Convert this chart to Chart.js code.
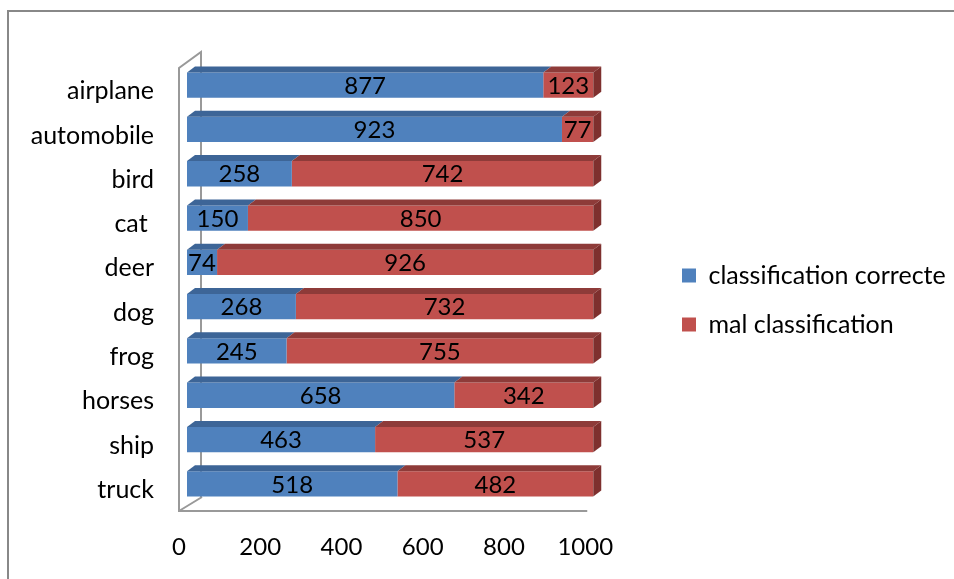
<!DOCTYPE html>
<html>
<head>
<meta charset="utf-8">
<script src="https://cdn.jsdelivr.net/npm/chart.js@4/dist/chart.umd.min.js"></script>
<style>
  html, body { margin: 0; padding: 0; background: #fff; }
  #wrap { width: 954px; height: 579px; position: relative; }
</style>
</head>
<body>
<div id="wrap"><canvas id="chart" width="954" height="579"></canvas></div>
<script>
const categories = ['airplane', 'automobile', 'bird', 'cat ', 'deer', 'dog', 'frog', 'horses', 'ship', 'truck'];
const correctValues = [877, 923, 258, 150, 74, 268, 245, 658, 463, 518];
const wrongValues = [123, 77, 742, 850, 926, 732, 755, 342, 537, 482];
const xTicks = [0, 200, 400, 600, 800, 1000];
const seriesNames = ['classification correcte', 'mal classification'];

const FONT = 'Lato, "Liberation Sans", sans-serif';
const blue = '#4F81BD', red = '#C0504D';
const blueTop = '#3D6597', redTop = '#8E3B39', redSide = '#7E302E';
const DX = 8, DY = 6;

// outer frame, legend placement, grey "wall" and "floor" of the 3d plot
const framePlugin = {
  id: 'frame',
  beforeDraw(chart) {
    const ctx = chart.ctx;
    // legend sits further left than the layout would put it
    const lg = chart.legend;
    lg.left = 658; lg.right = 954; lg.top = 20; lg.bottom = 580;
    ctx.save();
    ctx.strokeStyle = '#888';
    ctx.lineWidth = 2;
    ctx.beginPath();
    ctx.moveTo(8, 579);
    ctx.lineTo(8, 11);
    ctx.lineTo(954, 11);
    ctx.stroke();
    ctx.restore();
  },
  beforeDatasetsDraw(chart) {
    const {ctx, chartArea} = chart;
    const x0 = chart.scales.x.getPixelForValue(0);
    const x1 = chart.scales.x.getPixelForValue(1000);
    const t = chartArea.top, b = chartArea.bottom;
    ctx.save();
    ctx.strokeStyle = '#999';
    ctx.lineWidth = 2;
    ctx.beginPath();
    ctx.moveTo(x0 + 14, b - 9);
    ctx.lineTo(x0 + 14, t - 11);
    ctx.lineTo(x0 - 8, t + 5);
    ctx.lineTo(x0 - 8, b + 5);
    ctx.lineTo(x1 - 6, b + 5);
    ctx.moveTo(x0 - 8, b + 5);
    ctx.lineTo(x0 + 15, b - 9);
    ctx.stroke();
    ctx.restore();
  }
};

// top / side faces and the value labels
const barsPlugin = {
  id: 'bars3d',
  afterDatasetsDraw(chart) {
    const ctx = chart.ctx;
    const tops = [blueTop, redTop];
    const n = chart.data.datasets.length;
    ctx.save();
    for (let d = 0; d < n; d++) {
      const meta = chart.getDatasetMeta(d);
      meta.data.forEach((bar) => {
        const p = bar.getProps(['x', 'y', 'base', 'height'], true);
        const top = p.y - p.height / 2, bot = p.y + p.height / 2;
        ctx.fillStyle = tops[d];
        ctx.beginPath();
        ctx.moveTo(p.base, top);
        ctx.lineTo(p.x, top);
        ctx.lineTo(p.x + DX, top - DY);
        ctx.lineTo(p.base + DX, top - DY);
        ctx.closePath();
        ctx.fill();
        if (d === n - 1) {
          ctx.fillStyle = redSide;
          ctx.beginPath();
          ctx.moveTo(p.x, top);
          ctx.lineTo(p.x + DX, top - DY);
          ctx.lineTo(p.x + DX, bot - DY);
          ctx.lineTo(p.x, bot);
          ctx.closePath();
          ctx.fill();
        }
      });
    }
    ctx.fillStyle = '#000';
    ctx.font = '24px ' + FONT;
    ctx.textAlign = 'center';
    ctx.textBaseline = 'middle';
    for (let d = 0; d < n; d++) {
      const meta = chart.getDatasetMeta(d);
      const vals = chart.data.datasets[d].data;
      meta.data.forEach((bar, i) => {
        const p = bar.getProps(['x', 'y', 'base'], true);
        ctx.fillText(String(vals[i]), (p.x + p.base) / 2, p.y + 1);
      });
    }
    ctx.restore();
  }
};

new Chart(document.getElementById('chart'), {
  type: 'bar',
  data: {
    labels: categories,
    datasets: [
      { label: seriesNames[0], data: correctValues, backgroundColor: blue,
        barPercentage: 0.57, categoryPercentage: 1 },
      { label: seriesNames[1], data: wrongValues, backgroundColor: red,
        barPercentage: 0.57, categoryPercentage: 1 }
    ]
  },
  options: {
    indexAxis: 'y',
    responsive: false,
    animation: false,
    layout: { padding: { top: 63, bottom: 0, left: 0, right: 163 } },
    plugins: {
      tooltip: { enabled: false },
      legend: {
        position: 'right',
        align: 'center',
        labels: {
          boxWidth: 14,
          boxHeight: 14,
          padding: 24,
          color: '#000',
          font: { family: FONT, size: 25 }
        }
      }
    },
    scales: {
      x: {
        stacked: true,
        min: 0,
        max: 1000,
        grid: { display: false, drawTicks: false },
        border: { display: false },
        afterBuildTicks: (s) => { s.ticks = xTicks.map(v => ({ value: v })); },
        afterFit: (s) => { s.height = 73; },
        ticks: { color: '#000', padding: 27, labelOffset: -8, maxRotation: 0,
          callback: (v) => String(v),
          font: { family: FONT, size: 24 } }
      },
      y: {
        stacked: true,
        grid: { display: false, drawTicks: false },
        border: { display: false },
        afterFit: (s) => { s.width = 187; },
        ticks: { color: '#000', padding: 33, labelOffset: 6,
          font: { family: FONT, size: 25 } }
      }
    }
  },
  plugins: [framePlugin, barsPlugin]
});
</script>
</body>
</html>
